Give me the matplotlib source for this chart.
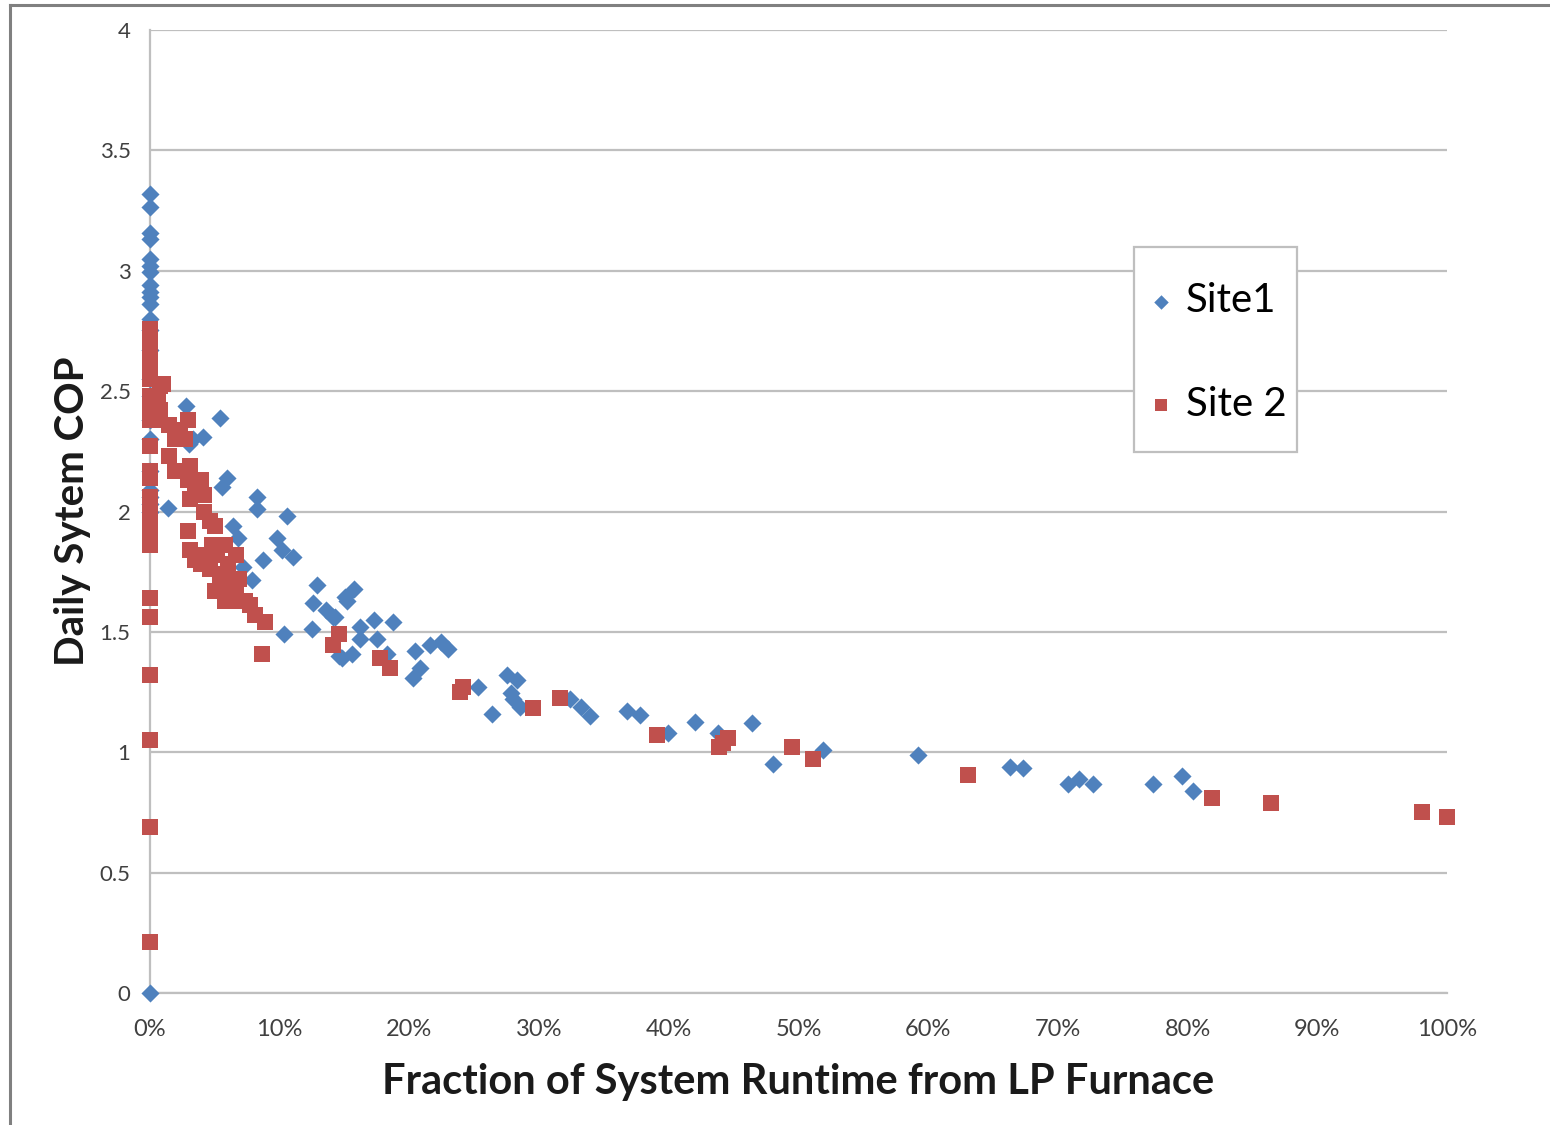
import matplotlib
matplotlib.use("Agg")
import matplotlib.pyplot as plt
from matplotlib.lines import Line2D
from matplotlib.patches import Rectangle
from matplotlib.ticker import FuncFormatter

plt.rcParams['font.family'] = ['Lato', 'DejaVu Sans']

# Site1 (blue diamonds): x = fraction of runtime from LP furnace (%), y = daily COP
site1_x = [0, 0, 0, 0, 0, 0, 0, 0, 0, 0, 0, 0, 0, 0, 0, 0, 0, 0, 0, 0, 0, 0, 0, 0,
           1.4, 2.8, 5.4, 3.3, 4.1, 3.0,
           5.9, 5.55, 8.25, 8.25, 10.6, 6.4, 9.8, 6.8, 10.2, 11.0, 8.7, 7.2, 7.9,
           12.9, 12.6, 13.6, 15.0, 10.3, 12.5, 14.6, 14.1,
           15.7, 15.2, 14.3, 16.2, 17.3, 18.7, 16.2, 17.5, 14.8, 15.6, 18.3,
           20.4, 21.6, 22.4, 23.0, 20.8, 20.3, 25.3, 26.4, 27.5, 28.3, 27.8, 28.0, 28.5,
           32.4, 33.2, 33.9, 36.8, 37.8, 39.9, 42.0, 43.8, 46.4, 48.0, 51.9, 59.2,
           66.3, 67.3, 70.8, 71.6, 72.7, 77.3, 79.6, 80.4]
site1_y = [3.32, 3.265, 3.157, 3.13, 3.05, 3.02, 2.995, 2.94, 2.91, 2.89, 2.86, 2.80,
           2.755, 2.67, 2.55, 2.48, 2.38, 2.30, 2.17, 2.09, 2.06, 2.03, 2.0, 0.0,
           2.015, 2.44, 2.39, 2.30, 2.31, 2.28,
           2.14, 2.10, 2.06, 2.01, 1.98, 1.94, 1.89, 1.89, 1.84, 1.81, 1.80, 1.77, 1.715,
           1.695, 1.62, 1.59, 1.645, 1.49, 1.51, 1.40, 1.56,
           1.68, 1.63, 1.56, 1.52, 1.55, 1.54, 1.47, 1.47, 1.39, 1.41, 1.41,
           1.42, 1.445, 1.46, 1.43, 1.35, 1.31, 1.27, 1.16, 1.32, 1.30, 1.245, 1.22, 1.19,
           1.22, 1.19, 1.15, 1.17, 1.155, 1.08, 1.125, 1.08, 1.12, 0.95, 1.01, 0.99,
           0.94, 0.935, 0.87, 0.89, 0.87, 0.87, 0.90, 0.84]

# Site 2 (red squares)
site2_x = [0, 0, 0, 0, 0, 0, 0, 0, 0, 0, 0, 0, 0, 0, 0, 0, 0, 0, 0, 0, 0, 0,
           0.8, 1.0, 0.6, 0.8, 0.4, 1.5, 1.9, 1.5, 1.9, 2.7, 2.9, 2.3, 3.1, 2.9, 3.5,
           3.9, 4.2, 3.1, 2.9, 3.1, 3.5, 3.9, 4.2, 4.6, 5.0, 4.8, 5.2, 4.2, 4.6, 5.4,
           5.6, 5.8, 6.2, 6.6, 6.6, 6.9, 7.3, 6.9, 7.7, 8.1, 8.9, 8.6, 5.4, 6.0, 5.8, 5.0,
           14.6, 14.1, 17.7, 18.5, 24.1, 23.9, 29.5, 31.6,
           39.1, 43.9, 44.6, 44.2, 49.5, 51.1, 63.1, 81.9, 86.4, 98.1, 100.0]
site2_y = [1.05, 0.69, 0.21, 1.32, 1.56, 1.64, 1.86, 1.90, 1.96, 2.0, 2.14, 2.17,
           2.27, 2.38, 2.44, 2.48, 2.55, 2.61, 2.67, 2.73, 2.76, 2.06,
           2.52, 2.53, 2.46, 2.42, 2.38, 2.36, 2.30, 2.23, 2.17, 2.30, 2.38, 2.34, 2.19,
           2.13, 2.09, 2.13, 2.07, 2.05, 1.92, 1.84, 1.80, 1.78, 2.0, 1.96, 1.94, 1.86,
           1.82, 1.82, 1.76, 1.74, 1.67, 1.63, 1.72, 1.82, 1.67, 1.63, 1.63, 1.72, 1.61,
           1.57, 1.54, 1.41, 1.69, 1.78, 1.86, 1.67,
           1.49, 1.445, 1.39, 1.35, 1.27, 1.25, 1.185, 1.225,
           1.07, 1.02, 1.06, 1.04, 1.02, 0.97, 0.905, 0.81, 0.79, 0.75, 0.73]

x_ticks = [0, 10, 20, 30, 40, 50, 60, 70, 80, 90, 100]
y_ticks = [0, 0.5, 1, 1.5, 2, 2.5, 3, 3.5, 4]

blue = '#4F81BD'
red = '#C0504D'
grid_c = '#BFBFBF'

fig = plt.figure(figsize=(15.5, 11.25), dpi=100)
ax = fig.add_axes([150/1550, 1 - 993/1125, 1297/1550, 963/1125])

ax.scatter(site1_x, site1_y, marker='D', s=85, color=blue, linewidths=0, label='Site1',
           zorder=3, clip_on=False)
ax.scatter(site2_x, site2_y, marker='s', s=135, color=red, linewidths=0, label='Site 2',
           zorder=3, clip_on=False)

ax.set_xlim(0, 100)
ax.set_ylim(0, 4)
ax.set_xticks(x_ticks)
ax.set_yticks(y_ticks)
ax.xaxis.set_major_formatter(FuncFormatter(lambda v, p: f"{int(round(v))}%"))
ax.yaxis.set_major_formatter(FuncFormatter(lambda v, p: f"{v:g}"))
ax.tick_params(axis='both', length=0, labelsize=17, colors='#404040')
ax.tick_params(axis='y', labelsize=16, pad=14)
ax.tick_params(axis='x', pad=18.5)
ax.yaxis.grid(True, color=grid_c, linewidth=1.6, zorder=0)
ax.set_axisbelow(True)
for s in ['top', 'right']:
    ax.spines[s].set_visible(False)
ax.spines['left'].set_color(grid_c)
ax.spines['left'].set_linewidth(1.6)
ax.spines['bottom'].set_color(grid_c)
ax.spines['bottom'].set_linewidth(1.6)

ax.set_xlabel('Fraction of System Runtime from LP Furnace', fontsize=30, fontweight='bold',
              color='#1a1a1a', labelpad=17)
ax.set_ylabel('Daily Sytem COP', fontsize=29, fontweight='bold', color='#1a1a1a', labelpad=6)

leg = ax.legend(loc='upper left', bbox_to_anchor=(0.7487, 0.7612), borderaxespad=0, fontsize=29,
                frameon=False, labelspacing=1.65, handletextpad=0.15, borderpad=0.55,
                handlelength=0.9, markerscale=0.8)

# legend frame
ax.add_patch(Rectangle((0.7587, 0.5618), 0.8844 - 0.7587, 0.7747 - 0.5618,
                       transform=ax.transAxes, facecolor='white', edgecolor='#BFBFBF',
                       linewidth=1.6, zorder=4))
leg.set_zorder(5)

# outer chart-area border (left and top)
fig.add_artist(Line2D([10/1550, 10/1550], [0, 1 - 5/1125], color='#808080', linewidth=2.2,
                      transform=fig.transFigure))
fig.add_artist(Line2D([10/1550, 1], [1 - 5/1125, 1 - 5/1125], color='#808080', linewidth=2.2,
                      transform=fig.transFigure))

fig.savefig('out.png', dpi=100, facecolor='white')
